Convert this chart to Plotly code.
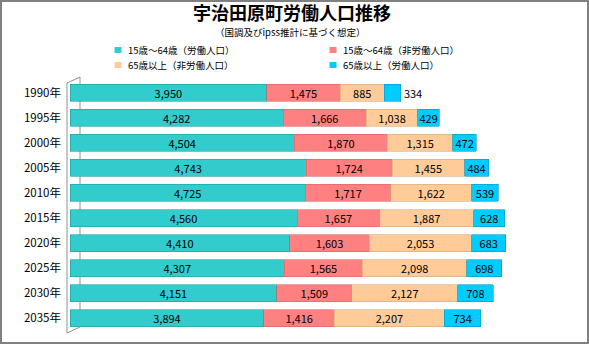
import plotly.graph_objects as go

years = ["1990年", "1995年", "2000年", "2005年", "2010年", "2015年", "2020年", "2025年", "2030年", "2035年"]
work_15_64 = [3950, 4282, 4504, 4743, 4725, 4560, 4410, 4307, 4151, 3894]
nonwork_15_64 = [1475, 1666, 1870, 1724, 1717, 1657, 1603, 1565, 1509, 1416]
nonwork_65 = [885, 1038, 1315, 1455, 1622, 1887, 2053, 2098, 2127, 2207]
work_65 = [334, 429, 472, 484, 539, 628, 683, 698, 708, 734]

series_names = ["15歳～64歳（労働人口）", "15歳～64歳（非労働人口）", "65歳以上（非労働人口）", "65歳以上（労働人口）"]
series_values = [work_15_64, nonwork_15_64, nonwork_65, work_65]
colors = ["#33CCCC", "#FF8080", "#FFCC99", "#00CCFF"]
edge_colors = ["#1E9E9E", "#D86464", "#D8A676", "#0098C8"]

FONT = "Noto Sans CJK JP"
W, H = 589, 344
L, R, T, B = 70, 21, 80, 13
pw, ph = W - L - R, H - T - B


def px(x):
    return (x - L) / pw


def py(y):
    return (H - B - y) / ph


fig = go.Figure()
for i, (name, vals) in enumerate(zip(series_names, series_values)):
    if i == 3:
        pos = ["outside" if v < 400 else "inside" for v in vals]
    else:
        pos = "inside"
    fig.add_trace(go.Bar(
        y=years, x=vals, name=name, orientation="h",
        marker=dict(color=colors[i], line=dict(color=edge_colors[i], width=0.6)),
        text=[f"{v:,}" for v in vals], textposition=pos,
        insidetextanchor="middle",
        textfont=dict(family=FONT, size=11, color="#000000"),
        outsidetextfont=dict(family=FONT, size=11, color="#000000"),
        cliponaxis=False, showlegend=False,
    ))

shapes = [
    dict(type="rect", xref="paper", yref="paper", x0=px(1), x1=px(588), y0=py(343), y1=py(1),
         line=dict(color="#808080", width=2), layer="below"),
    dict(type="line", xref="paper", yref="paper", x0=px(67), x1=px(67), y0=py(83), y1=py(333),
         line=dict(color="#909090", width=1), layer="below"),
    dict(type="line", xref="paper", yref="paper", x0=px(80), x1=px(80), y0=py(77), y1=py(327),
         line=dict(color="#909090", width=1), layer="below"),
    dict(type="line", xref="paper", yref="paper", x0=px(67), x1=px(80), y0=py(83), y1=py(77),
         line=dict(color="#909090", width=1), layer="below"),
    dict(type="line", xref="paper", yref="paper", x0=px(67), x1=px(80), y0=py(333), y1=py(327),
         line=dict(color="#909090", width=1), layer="below"),
]

annotations = [
    dict(text="<b>宇治田原町労働人口推移</b>", xref="paper", yref="paper",
         x=px(292), y=py(12), xanchor="center", yanchor="middle", showarrow=False,
         font=dict(family=FONT, size=18, color="#000000")),
    dict(text="（国調及びipss推計に基づく想定）", xref="paper", yref="paper",
         x=px(290), y=py(32), xanchor="center", yanchor="middle", showarrow=False,
         font=dict(family=FONT, size=9.5, color="#000000")),
]

# manual two-column legend
legend_pos = [(118, 50), (333, 50), (118, 65), (333, 65)]
for (cx, cy), name, col in zip(legend_pos, series_names, colors):
    shapes.append(dict(type="rect", xref="paper", yref="paper",
                       x0=px(cx - 3.5), x1=px(cx + 3.5), y0=py(cy + 3), y1=py(cy - 3),
                       fillcolor=col, line=dict(width=0)))
    annotations.append(dict(text=name, xref="paper", yref="paper",
                            x=px(cx + 8), y=py(cy), xanchor="left", yanchor="middle",
                            showarrow=False,
                            font=dict(family=FONT, size=9.5, color="#000000")))

fig.update_layout(
    width=W, height=H,
    margin=dict(l=L, r=R, t=T, b=B),
    barmode="stack", bargap=0.32,
    paper_bgcolor="white", plot_bgcolor="white",
    shapes=shapes, annotations=annotations,
    uniformtext=dict(minsize=10, mode="show"),
    showlegend=False,
    xaxis=dict(range=[0, 10000], visible=False, showgrid=False, zeroline=False),
    yaxis=dict(autorange="reversed", showgrid=False, zeroline=False, showline=False,
               ticks="", ticklabelstandoff=8,
               tickfont=dict(family=FONT, size=11.5, color="#000000")),
)

fig.write_html("out.html")
